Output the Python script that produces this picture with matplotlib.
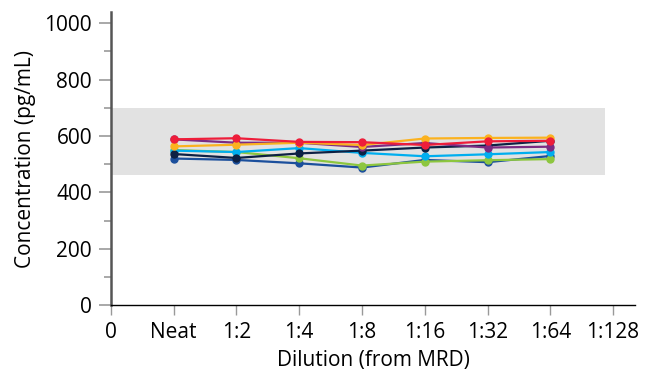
import matplotlib.pyplot as plt
from matplotlib.ticker import MultipleLocator

plt.rcParams['font.family'] = ['Open Sans', 'DejaVu Sans']

# dilution labels (x tick labels), x = 0 .. 8
dilutions = ["0", "Neat", "1:2", "1:4", "1:8", "1:16", "1:32", "1:64", "1:128"]

# measured concentrations (pg/mL) at Neat .. 1:64
red = [588, 592, 579, 578, 568, 581, 583]
purple = [588, 576, 576, 561, 575, 559, 562]
orange = [563, 569, 576, 568, 591, 593, 594]
navy = [536, 522, 538, 548, 559, 566, 583]
cyan = [548, 543, 557, 540, 528, 535, 543]
green = [550, 543, 521, 495, 509, 514, 518]
blue = [520, 515, 503, 488, 515, 507, 529]

# acceptance range
band_low, band_high = 460, 700

series = [
    (blue, "#1b4f9c"),
    (green, "#8dc63f"),
    (cyan, "#00aeef"),
    (navy, "#0d2144"),
    (purple, "#7b2b83"),
    (orange, "#fbb21f"),
    (red, "#ee1d3a"),
]


def main():
    fig = plt.figure(figsize=(6.52, 3.73), dpi=100)
    ax = fig.add_axes([0.170, 0.182, 0.804, 0.786])

    ax.axhspan(band_low, band_high, xmin=0, xmax=7.87 / 8.35,
               color="#e2e2e2", lw=0, zorder=0)

    x = list(range(1, len(red) + 1))
    for vals, col in series:
        ax.plot(x, vals, color=col, lw=1.6, marker="o", ms=5, zorder=3)

    ax.set_xlim(0, 8.35)
    ax.set_ylim(0, 1040)
    ax.set_xticks(range(len(dilutions)))
    ax.set_xticklabels(dilutions)
    ax.yaxis.set_major_locator(MultipleLocator(200))
    ax.yaxis.set_minor_locator(MultipleLocator(100))

    for s in ["top", "right"]:
        ax.spines[s].set_visible(False)
    ax.spines["left"].set_color("#555555")
    ax.spines["left"].set_linewidth(1.8)
    ax.spines["bottom"].set_color("black")
    ax.spines["bottom"].set_linewidth(1.0)

    ax.tick_params(axis="y", which="both", color="#999999", width=1.2,
                   labelsize=15, pad=5)
    ax.tick_params(axis="y", which="major", length=8.5)
    ax.tick_params(axis="y", which="minor", length=5)
    ax.tick_params(axis="x", color="#999999", width=1.0, length=7.5,
                   labelsize=15, pad=5)

    ax.set_xlabel("Dilution (from MRD)", fontsize=15, labelpad=5)
    ax.set_ylabel("Concentration (pg/mL)", fontsize=15, labelpad=6)

    fig.savefig("out.png", dpi=100)


if __name__ == "__main__":
    main()
